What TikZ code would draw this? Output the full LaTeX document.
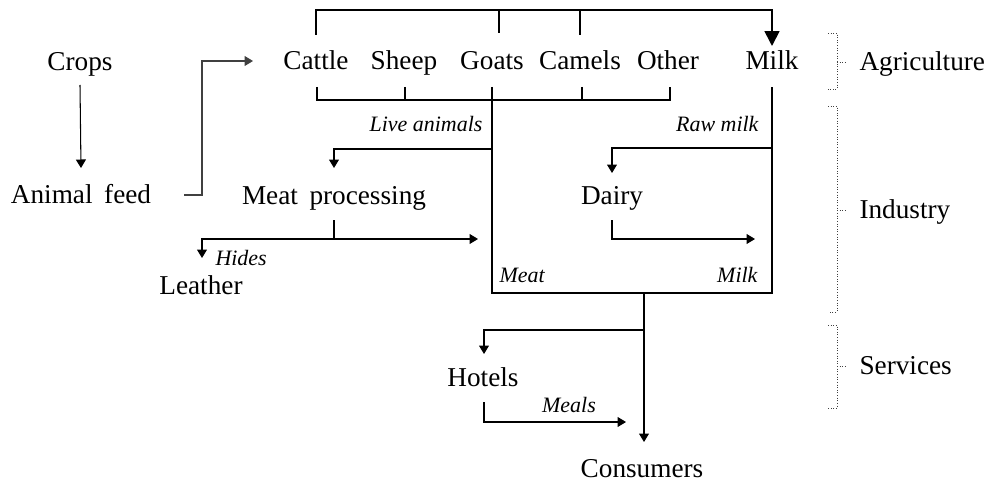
\documentclass[tikz,border=0pt]{standalone}
\usepackage{fontspec}
\setmainfont{Liberation Serif}[WordSpace=1.7]
\newfontfamily\lblfont{Liberation Serif}
\usepackage{tikz}
\usetikzlibrary{arrows.meta, calc, positioning}

\begin{document}
\begin{tikzpicture}[x=0.02cm, y=-0.02cm, line width=0.6pt,
                    every node/.style={inner sep=0pt, text height=10.2pt, text depth=0pt, font=\fontsize{15.5}{18}\selectfont},
                    lbl/.style={text height=8.3pt, font=\lblfont\fontsize{12.5}{15}\selectfont\itshape},
                    flow/.style={-{Triangle[length=0.17cm, width=0.2cm]}},
                    milkline/.style={line width=1pt},
                    feedline/.style={black!75},
                    sector/.style={densely dotted, black!75, line width=0.5pt}]
                    \useasboundingbox (0,0) rectangle (987,483);

                    \node (crops) at (80,62) {Crops};
                    \node (feed) at (81,195) {Animal feed};
                    \node (cattle) at (316,61) {Cattle};
                    \node (sheep) at (404,61) {Sheep};
                    \node (goats) at (492,61) {Goats};
                    \node (camels) at (580,61) {Camels};
                    \node (other) at (668,61) {Other};
                    \node (milk) at (772,61) {Milk};
                    \node (meatproc) at (334,196) {Meat processing};
                    \node (dairy) at (612,196) {Dairy};
                    \node (leather) at (201,286) {Leather};
                    \node (hotels) at (483,378) {Hotels};
                    \node (consumers) at (642,469) {Consumers};

                    \node[lbl, anchor=east] (live) at (483,124) {Live animals};
                    \node[lbl, anchor=east] (raw) at (759,124) {Raw milk};
                    \node[lbl, anchor=west] (hides) at (215,258) {Hides};
                    \node[lbl, anchor=west] (meatout) at (499,275) {Meat};
                    \node[lbl, anchor=east] (milkout) at (758,275) {Milk};
                    \node[lbl] (meals) at (569,405) {Meals};

                    \node[anchor=west] (agri) at (859,62) {Agriculture};
                    \node[anchor=west] (industry) at (859,210) {Industry};
                    \node[anchor=west] (services) at (859,366) {Services};

                    % agriculture
                    \draw[flow] ($(crops)+(0,23)$) -- ($(feed)+(0,-27)$);
                    \draw[flow, feedline] ($(feed)+(103,0)$) -- ++(18,0) |- ($(cattle)+(-63,0)$);
                    \draw[milkline, -{Triangle[length=0.3cm, width=0.3cm]}] ($(cattle)+(0,-26)$) |- ($(milk)+(0,-51)$) -- ($(milk)+(0,-15)$);
                    \draw[milkline] ($(goats)+(7,-28)$) -- ($(goats)+(7,-51)$);
                    \draw[milkline] ($(camels)+(0,-26)$) -- ($(camels)+(0,-51)$);

                    \draw ($(cattle)+(1,26)$) |- ($(other)+(2,39)$) -- ($(other)+(2,26)$);
                    \draw ($(sheep)+(1,26)$) -- ($(sheep)+(1,39)$);
                    \draw ($(camels)+(2,26)$) -- ($(camels)+(2,39)$);

                    % industry
                    \draw ($(goats)+(0,26)$) |- ($(milk)+(0,232)$) -- ($(milk)+(0,26)$);
                    \draw[flow] ($(goats)+(0,88)$) -| ($(meatproc)+(0,-28)$);
                    \draw[flow] ($(milk)+(0,87)$) -| ($(dairy)+(0,-23)$);

                    \coordinate (mpj) at ($(meatproc)+(0,43)$);
                    \draw ($(meatproc)+(0,24)$) -- (mpj);
                    \draw[flow] (mpj) -- ($(meatproc)+(144,43)$);
                    \draw[flow] (mpj) -| ($(leather)+(1,-28)$);
                    \draw[flow] ($(dairy)+(0,24)$) |- ($(dairy)+(143,43)$);

                    % services
                    \coordinate (boxout) at ($(consumers)+(2,-176)$);
                    \draw[flow] (boxout) -- ($(consumers)+(2,-27)$);
                    \draw[flow] ($(consumers)+(2,-139)$) -| ($(hotels)+(1,-24)$);
                    \draw[flow] ($(hotels)+(1,24)$) |- ($(consumers)+(-16,-47)$);

                    \draw[sector] ($(agri.west)+(-31,-29)$) -- ++(9,0) -- ++(0,56) -- ++(-9,0);
                    \draw[sector] ($(agri.west)+(-22,0)$) -- ++(10,0);
                    \draw[sector] ($(industry.west)+(-31,-104)$) -- ++(9,0) -- ++(0,206) -- ++(-9,0);
                    \draw[sector] ($(industry.west)+(-22,0)$) -- ++(10,0);
                    \draw[sector] ($(services.west)+(-31,-41)$) -- ++(9,0) -- ++(0,83) -- ++(-9,0);
                    \draw[sector] ($(services.west)+(-22,0)$) -- ++(10,0);
                \end{tikzpicture}
\end{document}
